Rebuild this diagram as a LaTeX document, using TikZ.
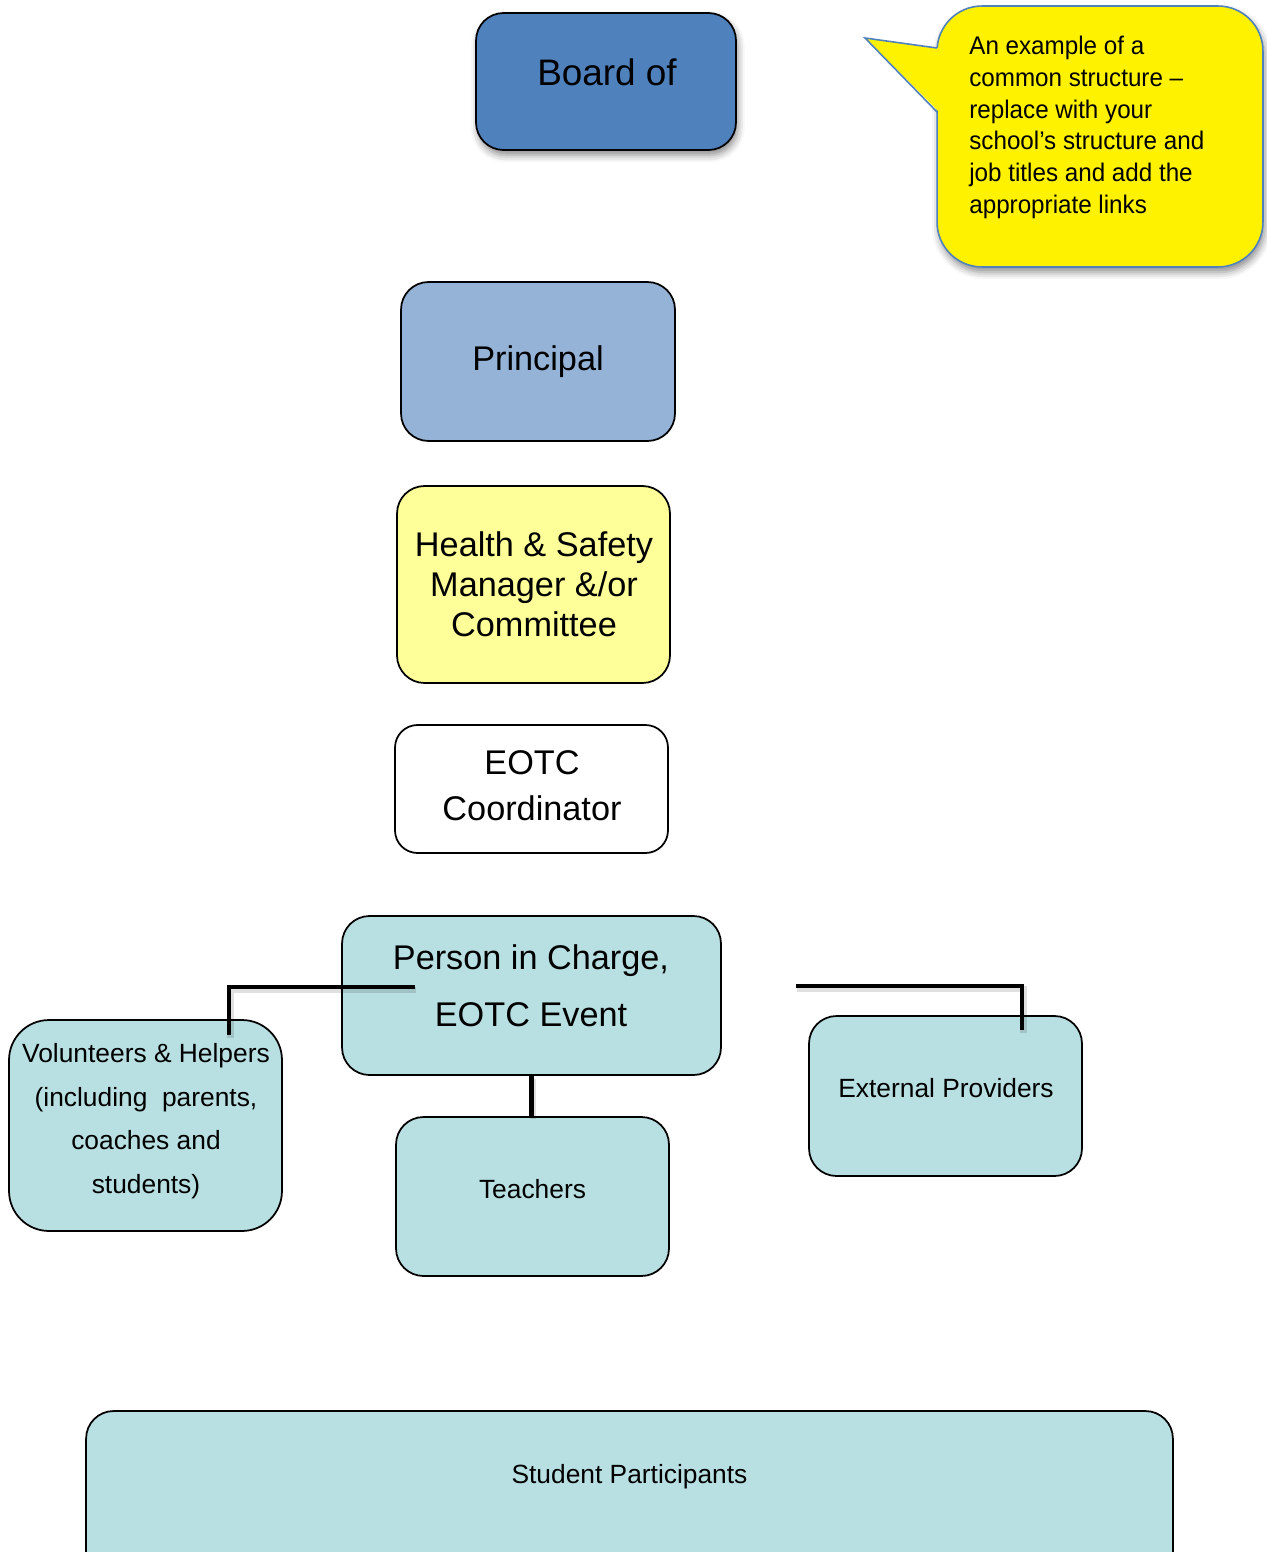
\documentclass[tikz,border=0pt]{standalone}
\usepackage{fontspec}
\setmainfont{Liberation Sans}
\usetikzlibrary{shadows.blur}
\definecolor{boardblue}{RGB}{79,129,189}
\definecolor{princblue}{RGB}{149,179,215}
\definecolor{hsyellow}{RGB}{255,255,153}
\definecolor{eventteal}{RGB}{184,223,226}
\begin{document}
\begin{tikzpicture}[x=0.02cm, y=-0.02cm,
            box/.style={draw=black, line width=1pt, rounded corners=0.55cm, inner sep=0pt},
            shade box/.style={blur shadow={shadow xshift=1pt, shadow yshift=-3pt, shadow blur radius=4pt, shadow opacity=45}},
            big/.style={font=\fontsize{19.5}{22.7}\selectfont, align=center, inner sep=0pt},
            small/.style={font=\fontsize{15}{24.8}\selectfont, align=center, inner sep=0pt},
            link/.style={line width=2.7pt, preaction={draw=black, opacity=0.12, line width=3.6pt, transform canvas={xshift=0.8pt, yshift=-1.6pt}}}]
            \clip (0, 0) rectangle (1267, 1552);

            \node[box, shade box, fill=boardblue, minimum width=5.2cm, minimum height=2.74cm] (board) at (606, 81.5) {};
            \node[box, fill=princblue, minimum width=5.48cm, minimum height=3.18cm] (principal) at (538, 361.5) {};
            \node[box, fill=hsyellow, minimum width=5.46cm, minimum height=3.94cm] (hsm) at (533.5, 584.5) {};
            \node[box, fill=white, minimum width=5.46cm, minimum height=2.56cm, rounded corners=0.45cm] (eotc) at (531.5, 789) {};
            \node[box, fill=eventteal, minimum width=7.58cm, minimum height=3.18cm] (pic) at (531.5, 995.5) {};
            \node[box, fill=eventteal, minimum width=5.46cm, minimum height=4.22cm, rounded corners=0.8cm] (volunteers) at (145.5, 1125.5) {};
            \node[box, fill=eventteal, minimum width=5.46cm, minimum height=3.18cm] (teachers) at (532.5, 1196.5) {};
            \node[box, fill=eventteal, minimum width=5.46cm, minimum height=3.2cm] (external) at (945.5, 1096) {};
            \node[box, fill=eventteal, minimum width=21.74cm, minimum height=3.58cm] (students) at (629.5, 1500.5) {};

            \node[box, shade box, draw=boardblue, line width=0.9pt, fill=yellow, minimum width=6.52cm, minimum height=5.22cm, rounded corners=0.9cm] (note) at (1100, 136.5) {};
            \fill[yellow] (939, 48) -- (865, 38) -- (939, 112) -- cycle;
            \draw[boardblue, line width=0.9pt, line join=miter] (937, 48) -- (865, 38) -- (937, 112);

            \node[big, font=\fontsize{21}{24}\selectfont] (board-txt) at (607, 72) {Board of};
            \node[big] (principal-txt) at (538, 361.5) {Principal};
            \node[big] (hsm-txt) at (534, 584) {Health \& Safety\\Manager \&/or\\Committee};
            \node[big, font=\fontsize{19.5}{26}\selectfont] (eotc-txt) at (532, 786) {EOTC\\Coordinator};
            \node[big, font=\fontsize{19.5}{32.6}\selectfont] (pic-txt) at (531, 986) {Person in Charge,\\EOTC Event};
            \node[small] (volunteers-txt) at (146, 1121) {Volunteers \& Helpers\\(including~ parents,\\coaches and\\students)};
            \node[small] (teachers-txt) at (532.5, 1189) {Teachers};
            \node[small] (external-txt) at (946, 1088) {External Providers};
            \node[small] (students-txt) at (629.5, 1477) {Student Participants};
            \node[anchor=west, align=left, inner sep=0pt, font=\fontsize{14.5}{18.1}\selectfont\addfontfeatures{FakeStretch=0.95}] (note-txt) at (969, 127.5) {An example of a\\common structure --\\replace with your\\school’s structure and\\job titles and add the\\appropriate links};

            \coordinate (pic-l) at (415, 987);
            \coordinate (volunteers-in) at (229, 1035);
            \coordinate (pic-r) at (796, 986);
            \coordinate (external-in) at (1022, 1030);
            \draw[link] (pic-l) -| (volunteers-in);
            \draw[link] (pic.south) -- (pic.south |- teachers.north);
            \draw[link] (pic-r) -| (external-in);
        \end{tikzpicture}
\end{document}
